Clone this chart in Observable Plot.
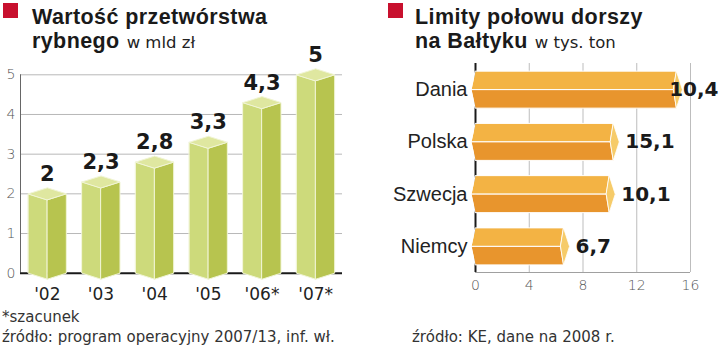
<!DOCTYPE html>
<html><head><meta charset="utf-8">
<script src="https://cdn.jsdelivr.net/npm/d3@7"></script>
<script src="https://cdn.jsdelivr.net/npm/@observablehq/plot@0.6"></script>
<style>
body{margin:0;background:#fff;}
#root{position:relative;width:720px;height:358px;overflow:hidden;font-family:"Liberation Sans",Arial,sans-serif;color:#1a1a1a;}
.sq{position:absolute;width:15px;height:15px;background:#c8102e;}
.title{position:absolute;font-weight:bold;font-size:21.5px;letter-spacing:0.4px;line-height:24px;height:24px;white-space:nowrap;color:#1a1a1a;}
.sub{font-weight:normal;font-size:16.5px;letter-spacing:0;font-family:"DejaVu Sans",sans-serif;margin-left:7px;color:#222;}
.note{position:absolute;font-family:"DejaVu Sans",sans-serif;font-size:15px;line-height:20px;height:20px;color:#333;white-space:nowrap;}
.chart{position:absolute;}
</style></head>
<body>
<div id="root">
  <div class="chart" id="left" style="left:0;top:35px"></div>
  <div class="chart" id="right" style="left:360px;top:35px"></div>
  <div class="sq" style="left:3px;top:3px"></div>
  <div class="title" style="left:32px;top:5px">Wartość przetwórstwa</div>
  <div class="title" style="left:32px;top:29px">rybnego<span class="sub">w mld zł</span></div>
  <div class="sq" style="left:388px;top:3px"></div>
  <div class="title" style="left:415px;top:5px">Limity połowu dorszy</div>
  <div class="title" style="left:415px;top:29px">na Bałtyku<span class="sub">w tys. ton</span></div>
  <div class="note" style="left:2px;top:307px">*szacunek</div>
  <div class="note" style="left:2px;top:327px">źródło: program operacyjny 2007/13, inf. wł.</div>
  <div class="note" style="left:412px;top:327px">źródło: KE, dane na 2008 r.</div>
</div>
<script>
// ---- left chart data ----
const years = ["'02", "'03", "'04", "'05", "'06*", "'07*"];
const values = [2, 2.3, 2.8, 3.3, 4.3, 5];
const valueLabels = ["2", "2,3", "2,8", "3,3", "4,3", "5"];
const yTicks = [0, 1, 2, 3, 4, 5];

// ---- right chart data ----
const countries = ["Dania", "Polska", "Szwecja", "Niemcy"];
const limits = [15.1, 10.4, 10.1, 6.7];            // bar lengths as drawn
const limitLabels = ["10,4", "15,1", "10,1", "6,7"]; // labels as printed in the source
const xTicks = [0, 4, 8, 12, 16];

// ================= LEFT =================
const L = {width: 350, height: 270, mt: 39.3, mb: 32.3, ml: 20, mr: 8};
const xUnitL = (L.width - L.ml - L.mr) / years.length;
const yUnitL = (L.height - L.mt - L.mb) / 5;
const hw = 19 / xUnitL, dp = 6 / yUnitL;

const faceL = [], faceR = [], faceT = [];
values.forEach((v, i) => {
  [[i - hw, v], [i, v - dp], [i, -dp], [i - hw, 0]].forEach(([x, y]) => faceL.push({id: i, x, y}));
  [[i, v - dp], [i + hw, v], [i + hw, 0], [i, -dp]].forEach(([x, y]) => faceR.push({id: i, x, y}));
  [[i - hw, v], [i, v + dp], [i + hw, v], [i, v - dp]].forEach(([x, y]) => faceT.push({id: i, x, y}));
});

const leftPlot = Plot.plot({
  width: L.width, height: L.height,
  marginTop: L.mt, marginBottom: L.mb, marginLeft: L.ml, marginRight: L.mr,
  x: {type: "linear", domain: [-0.5, years.length - 0.5], axis: null},
  y: {domain: [0, 5], axis: null},
  marks: [
    Plot.ruleY(yTicks.filter(t => t > 0), {stroke: "#b8b8b8", strokeWidth: 1}),
    Plot.ruleX([-0.5], {stroke: "#666", strokeWidth: 1}),
    Plot.ruleY([0], {stroke: "#1a1a1a", strokeWidth: 2}),
    Plot.line(faceL, {x: "x", y: "y", z: "id", fill: "#cdda7b", stroke: "#f1f5d6", strokeWidth: 1, curve: "linear-closed"}),
    Plot.line(faceR, {x: "x", y: "y", z: "id", fill: "#b7c44f", stroke: "#f1f5d6", strokeWidth: 1, curve: "linear-closed"}),
    Plot.line(faceT, {x: "x", y: "y", z: "id", fill: "#dfe7a0", stroke: "#f1f5d6", strokeWidth: 1, curve: "linear-closed"}),
    Plot.text(yTicks, {x: -0.5, y: d => d, text: d => String(d), dx: -5, textAnchor: "end",
      fontSize: 14, fontFamily: "DejaVu Sans", fontWeight: 300, fill: "#555"}),
    Plot.text(years, {x: (d, i) => i, y: 0, text: d => d, dy: 21, lineAnchor: "middle",
      fontSize: 17, fontFamily: "DejaVu Sans", fill: "#222"}),
    Plot.text(values, {x: (d, i) => i, y: d => d, text: (d, i) => valueLabels[i], dy: -13, lineAnchor: "bottom",
      fontSize: 21, fontWeight: "bold", fontFamily: "DejaVu Sans", fill: "#1a1a1a"})
  ]
});
document.getElementById("left").append(leftPlot);

// ================= RIGHT =================
const R = {width: 360, height: 270, mt: 28, mb: 33, ml: 115, mr: 30};
const xUnitR = (R.width - R.ml - R.mr) / 16;
const yUnitR = (R.height - R.mt - R.mb) / countries.length;
const hh = 18.5 / yUnitR, tip = 6 / xUnitR, back = 2 / xUnitR, notch = 3 / xUnitR, chev = 4 / xUnitR;

const topH = [], botH = [], caps = [];
limits.forEach((v, i) => {
  const E = v - back;
  [[0, i - hh], [E, i - hh], [E - notch, i], [-chev, i]].forEach(([x, y]) => topH.push({id: i, x, y}));
  [[-chev, i], [E - notch, i], [E, i + hh], [0, i + hh]].forEach(([x, y]) => botH.push({id: i, x, y}));
  [[E, i - hh], [E + tip, i], [E, i + hh], [E - notch, i]].forEach(([x, y]) => caps.push({id: i, x, y}));
});
const rows = limits.map((v, i) => ({i, v, name: countries[i], label: limitLabels[i]}));

const rightPlot = Plot.plot({
  width: R.width, height: R.height,
  marginTop: R.mt, marginBottom: R.mb, marginLeft: R.ml, marginRight: R.mr,
  x: {domain: [0, 16], axis: null},
  y: {type: "linear", domain: [-0.5, countries.length - 0.5], reverse: true, axis: null},
  marks: [
    Plot.ruleX(xTicks.filter(t => t > 0), {stroke: "#bdbdbd", strokeWidth: 1}),
    Plot.ruleY([countries.length - 0.5], {stroke: "#a0a0a0", strokeWidth: 1}),
    Plot.ruleX([0], {stroke: "#1a1a1a", strokeWidth: 2}),
    Plot.line(topH, {x: "x", y: "y", z: "id", fill: "#f3b344", stroke: "#fff", strokeWidth: 1, curve: "linear-closed"}),
    Plot.line(botH, {x: "x", y: "y", z: "id", fill: "#e8952d", stroke: "#fff", strokeWidth: 1, curve: "linear-closed"}),
    Plot.line(caps, {x: "x", y: "y", z: "id", fill: "#f6cb69", stroke: "#fff", strokeWidth: 0.8, curve: "linear-closed"}),
    Plot.text(rows, {x: 0, y: "i", text: "name", dx: -8, textAnchor: "end",
      fontSize: 20, fontFamily: "Liberation Sans", fill: "#222"}),
    Plot.text(rows.filter(d => d.v < 14), {x: "v", y: "i", text: "label", dx: 10, textAnchor: "start",
      fontSize: 20, fontWeight: "bold", fontFamily: "DejaVu Sans", fill: "#1a1a1a"}),
    Plot.text(rows.filter(d => d.v >= 14), {y: "i", text: "label", frameAnchor: "right", dx: 28, textAnchor: "end",
      fontSize: 20, fontWeight: "bold", fontFamily: "DejaVu Sans", fill: "#1a1a1a"}),
    Plot.text(xTicks, {x: d => d, y: countries.length - 0.5, text: d => String(d), dy: 13, lineAnchor: "middle",
      fontSize: 14, fontFamily: "DejaVu Sans", fontWeight: 300, fill: "#555"})
  ]
});
document.getElementById("right").append(rightPlot);
</script>
</body></html>
